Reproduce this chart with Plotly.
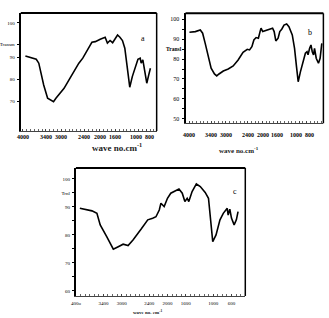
import plotly.graph_objects as go

# Panel a
a_wn = [3931, 3778, 3650, 3584, 3523, 3457, 3355, 3268, 3202, 3140, 3031, 2929, 2801, 2673, 2546,
        2444, 2375, 2316, 2247, 2207, 2120, 1992, 1865, 1806, 1737, 1671, 1610, 1543, 1482, 1416,
        1355, 1296, 1227, 1161, 1074, 1015, 957, 931, 888, 845, 786, 735, 692]
a_T = [90.5, 89.5, 89, 87.2, 82.6, 77.3, 71.3, 70.5, 69.7, 71.3, 73.5, 75.8, 79.6, 83.4, 87.2,
       89.5, 91.7, 94, 95.5, 96.7, 97, 98.1, 99, 96.3, 97.5, 96.5, 98.5, 100, 99, 97.5,
       94, 85.6, 76.3, 81.1, 86.4, 89, 89.5, 87.2, 88.7, 84.9, 78.1, 81.9, 84.9]

# Panel b
b_wn = [3991, 3830, 3696, 3632, 3562, 3471, 3401, 3310, 3248, 3186, 3069, 2935, 2800, 2666, 2532,
        2417, 2355, 2291, 2237, 2176, 2114, 2069, 2042, 1996, 1862, 1728, 1685, 1640, 1578, 1532,
        1479, 1417, 1345, 1283, 1192, 1130, 1077, 1031, 969, 897, 835, 790, 763, 720, 683,
        648, 613, 586, 540, 479, 434, 388]
b_T = [93.5, 93.8, 94.6, 93, 87.9, 81.2, 75.4, 72.5, 71.5, 72.5, 74, 75, 76.5, 79.5, 83.4,
       84.9, 84.6, 86.2, 89.6, 90.8, 90.5, 93.8, 95.5, 93.8, 94.6, 95.5, 93.8, 89.1, 90.5, 93.8,
       95, 97.1, 97.6, 96.3, 92.1, 85.4, 76.2, 68.6, 73.7, 78.7, 82.9, 83.7, 82.1, 85.4, 87.1,
       83.7, 82.1, 85.4, 80.4, 77.9, 80.4, 87.9]

# Panel c
c_wn = [3914, 3649, 3541, 3469, 3327, 3183, 3075, 2968, 2860, 2753, 2574, 2430, 2323, 2251, 2179,
        2143, 2072, 2000, 1928, 1857, 1749, 1677, 1620, 1570, 1534, 1462, 1369, 1283, 1176, 1104,
        1054, 1011, 939, 853, 781, 731, 695, 674, 638, 602, 544, 495, 458]
c_T = [89.5, 88.6, 87.7, 83.6, 79.4, 74.9, 75.8, 76.7, 76.2, 78.2, 82.1, 85.4, 86, 86.5, 88.9,
       91.3, 90.1, 93.1, 94.9, 95.5, 96.4, 94.9, 91.9, 93.1, 91.9, 95.5, 98.2, 97.3, 95.2, 93.1,
       85.4, 77.6, 80, 85.4, 87.7, 88.6, 89.5, 87.1, 89.2, 86, 83.6, 85.4, 88.3]

ab_xticks = [4000, 3400, 3000, 2400, 2000, 1600, 1000, 800]
ab_xtext = ["4000", "3400", "3000", "2400", "2000", "1600", "1000", "800"]
ab_xshift = [0, 0, 0, 0, 0, 0, -3, 3]
c_xticks = [4000, 3400, 3000, 2400, 2000, 1600, 1000, 600]
c_xtext = ["400o", "3400", "3000", "2400", "2000", "1600", "1000", "600"]

a_yticks = [105.5, 95.9, 90, 80, 70]
a_ytext = ["100", "Transm", "90", "80", "70"]
b_yticks = [100, 90, 80, 70, 60, 50]
b_ytext = ["100", "90", "80", "70", "60", "50"]
c_yticks = [100, 95, 90, 80, 70, 60]
c_ytext = ["100", "Trnl", "90", "80", "70", "60"]

FONT = "Liberation Serif"
W, H = 329, 318

fig = go.Figure()
line = dict(color="black", width=1.6)
fig.add_trace(go.Scatter(x=a_wn, y=a_T, mode="lines", line=line, xaxis="x", yaxis="y", showlegend=False))
fig.add_trace(go.Scatter(x=b_wn, y=b_T, mode="lines", line=line, xaxis="x2", yaxis="y2", showlegend=False))
fig.add_trace(go.Scatter(x=c_wn, y=c_T, mode="lines", line=line, xaxis="x3", yaxis="y3", showlegend=False))


def xax(dom, rng, tv, tt, anchor, fs, standoff, labels=True):
    return dict(domain=dom, range=rng, anchor=anchor, tickvals=tv, ticktext=tt, tickangle=0,
                showticklabels=labels,
                showgrid=False, zeroline=False, showline=True, linecolor="#444", linewidth=1,
                ticks="inside", ticklen=2, tickcolor="#444",
                minor=dict(ticks="inside", ticklen=2, dtick=100, tickcolor="#666"),
                tickfont=dict(family=FONT, size=fs, color="black"), ticklabelstandoff=standoff)


def yax(dom, rng, tv, tt, anchor, fs, minor=None):
    d = dict(domain=dom, range=rng, anchor=anchor, tickvals=tv, ticktext=tt,
             showgrid=False, zeroline=False, showline=True, linecolor="black", linewidth=2,
             ticks="outside", ticklen=2, tickcolor="black",
             tickfont=dict(family=FONT, size=fs, color="black"), ticklabelstandoff=1)
    if minor:
        d["minor"] = dict(ticks="outside", ticklen=2, dtick=minor, tickcolor="black")
    return d


fig.update_layout(
    width=W, height=H, margin=dict(l=0, r=0, t=0, b=0),
    paper_bgcolor="white", plot_bgcolor="white",
    xaxis=xax([16 / W, 154 / W], [4051, 530], ab_xticks, ab_xtext, "y", 6, 2, False),
    yaxis=yax([1 - 131 / H, 1 - 13 / H], [56.4, 110], a_yticks, a_ytext, "x", 5),
    xaxis2=xax([183.3 / W, 323.3 / W], [4098, 345], ab_xticks, ab_xtext, "y2", 6, 5, False),
    yaxis2=yax([1 - 123.3 / H, 1 - 13.3 / H], [47.7, 103], b_yticks, b_ytext, "x2", 6, minor=5),
    xaxis3=xax([72 / W, 244 / W], [4000, 300], c_xticks, c_xtext, "y3", 5, 2),
    yaxis3=yax([1 - 296 / H, 1 - 168 / H], [58.2, 103.9], c_yticks, c_ytext, "x3", 5, minor=5),
)

shapes = []
for xr, yr in [("x", "y"), ("x2", "y2"), ("x3", "y3")]:
    shapes.append(dict(type="line", xref=xr + " domain", yref=yr + " domain", x0=0, x1=1, y0=1, y1=1,
                       line=dict(color="black", width=2)))
    shapes.append(dict(type="line", xref=xr + " domain", yref=yr + " domain", x0=1, x1=1, y0=0, y1=1,
                       line=dict(color="black", width=1.5)))
fig.update_layout(shapes=shapes)

ann = []
# x tick labels for panels a and b
for xr, yr, yoff in [("x", "y domain", -6), ("x2", "y2 domain", -12)]:
    for v, t, s in zip(ab_xticks, ab_xtext, ab_xshift):
        ann.append(dict(x=v, y=0, xref=xr, yref=yr, text="<b>" + t + "</b>", showarrow=False,
                        yanchor="middle", xanchor="center",
                        xshift=s, yshift=yoff, font=dict(family=FONT, size=6, color="black")))

ann.append(dict(x=888, y=98.6, xref="x", yref="y", text="a", showarrow=False,
                font=dict(family=FONT, size=8, color="black")))
ann.append(dict(x=701, y=93.6, xref="x2", yref="y2", text="b", showarrow=False,
                font=dict(family=FONT, size=8, color="black")))
ann.append(dict(x=516, y=95.4, xref="x3", yref="y3", text="c", showarrow=False,
                font=dict(family=FONT, size=8, color="black")))
ann.append(dict(x=86 / W, y=1 - 147 / H, xref="paper", yref="paper", text="<b>wave no.cm<sup>-1</sup></b>",
                showarrow=False, yanchor="middle", font=dict(family=FONT, size=9, color="#222")))
ann.append(dict(x=260 / W, y=1 - 150 / H, xref="paper", yref="paper", text="<b>wave no.cm<sup>-1</sup></b>",
                showarrow=False, yanchor="middle", font=dict(family=FONT, size=7, color="#222")))
ann.append(dict(x=172 / W, y=1 - 49 / H, xref="paper", yref="paper", text="<b>Transl</b>",
                showarrow=False, yanchor="middle", font=dict(family=FONT, size=5.5, color="black")))
ann.append(dict(x=145 / W, y=1 - 312 / H, xref="paper", yref="paper", text="<b>wave no. cm<sup>-1</sup></b>",
                showarrow=False, yanchor="middle", font=dict(family=FONT, size=5, color="#222")))
fig.update_layout(annotations=ann)

fig.write_html("out.html", config={"displayModeBar": False},
               post_script="document.body.style.margin='0';")
